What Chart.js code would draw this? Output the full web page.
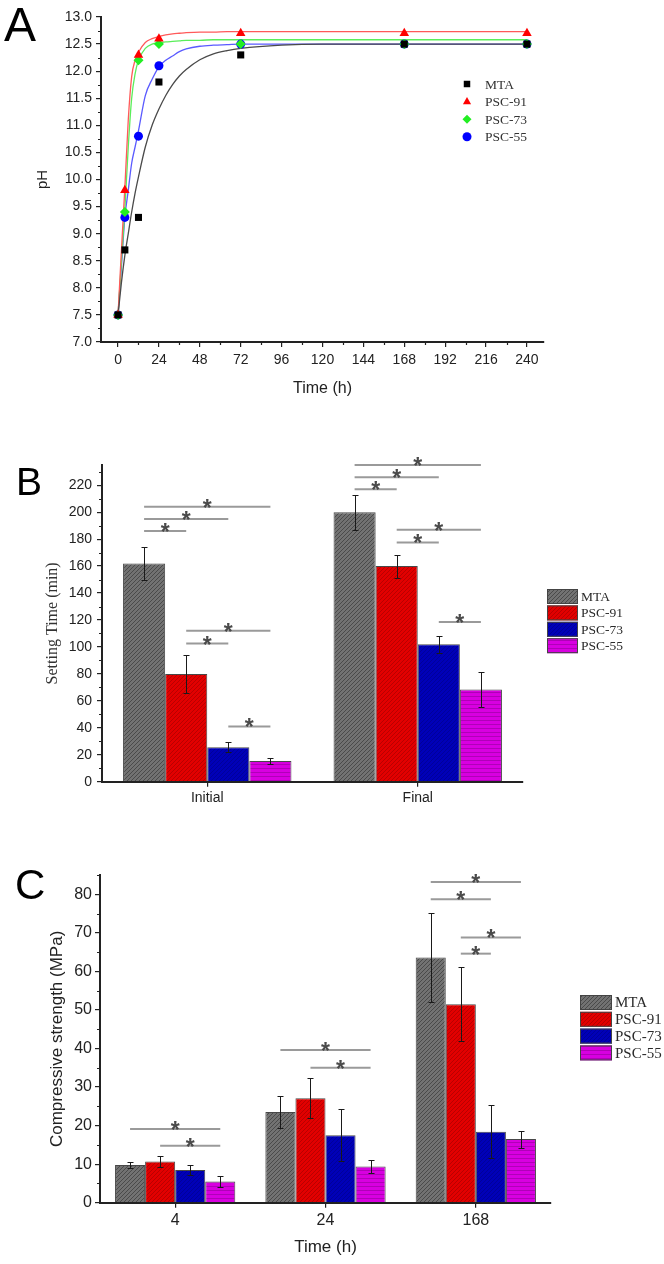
<!DOCTYPE html>
<html>
<head>
<meta charset="utf-8">
<script src="https://cdn.jsdelivr.net/npm/chart.js@4.4.1/dist/chart.umd.min.js"></script>
<style>
html, body { margin: 0; padding: 0; background: #fff; }
#wrap { position: relative; width: 664px; height: 1264px; overflow: hidden; background: #fff; }
#wrap canvas { position: absolute; left: 0; }
.panel { position: absolute; font-family: "Liberation Sans", Arial, sans-serif; color: #000; line-height: 1; }
</style>
</head>
<body>
<div id="wrap">
  <canvas id="chartA" width="664" height="420" style="top:0px"></canvas>
  <canvas id="chartB" width="664" height="400" style="top:440px"></canvas>
  <canvas id="chartC" width="664" height="414" style="top:850px"></canvas>
  <div class="panel" style="left:4px;top:1px;font-size:48px">A</div>
  <div class="panel" style="left:16px;top:462px;font-size:39px">B</div>
  <div class="panel" style="left:15px;top:864px;font-size:42px">C</div>
</div>
<script>
// ---- Panel A: pH over time ----
const phTimes = [0, 4, 12, 24, 72, 168, 240];
const phMTA = [7.5, 8.7, 9.3, 11.8, 12.3, 12.5, 12.5];
const ph91  = [7.5, 9.8, 12.3, 12.6, 12.7, 12.7, 12.7];
const ph73  = [7.5, 9.4, 12.2, 12.5, 12.5, 12.5, 12.5];
const ph55  = [7.5, 9.3, 10.8, 12.1, 12.5, 12.5, 12.5];
// fitted curves
const fitTimes = [0, 2, 4, 6, 8, 10, 12, 16, 20, 24, 28, 32, 36, 40, 48, 56, 64, 72, 96, 120, 168, 240];
const fitMTA = [7.5, 8.1, 8.6, 9.0, 9.4, 9.75, 10.05, 10.6, 11.0, 11.3, 11.55, 11.75, 11.91, 12.03, 12.21, 12.32, 12.38, 12.42, 12.48, 12.5, 12.5, 12.5];
const fit91  = [7.5, 8.7, 9.85, 11.1, 11.9, 12.2, 12.35, 12.53, 12.6, 12.64, 12.67, 12.69, 12.7, 12.71, 12.72, 12.72, 12.73, 12.73, 12.73, 12.73, 12.73, 12.73];
const fit73  = [7.5, 8.5, 9.45, 10.6, 11.5, 11.95, 12.2, 12.42, 12.5, 12.52, 12.54, 12.55, 12.56, 12.57, 12.57, 12.58, 12.58, 12.58, 12.58, 12.58, 12.58, 12.58];
const fit55  = [7.5, 8.4, 9.3, 9.8, 10.3, 10.6, 10.9, 11.55, 11.85, 12.08, 12.2, 12.28, 12.36, 12.41, 12.46, 12.48, 12.49, 12.5, 12.5, 12.5, 12.5, 12.5];

// ---- Panel B: setting time ----
const setCats = ["Initial", "Final"];
const setMTA = [162, 200],  setMTAErr = [12, 13];
const set91  = [80, 160],   set91Err  = [14, 8.5];
const set73  = [25.5, 102], set73Err  = [3.8, 6.3];
const set55  = [15.3, 68.5], set55Err = [2.5, 13.2];
// [category, from series, to series, height]
const setSig = [[0, 0, 1, 186], [0, 0, 2, 195], [0, 0, 3, 204], [0, 1, 2, 102.5], [0, 1, 3, 112], [0, 2, 3, 41],
                [1, 0, 1, 217], [1, 0, 2, 226], [1, 0, 3, 235], [1, 1, 2, 177.5], [1, 1, 3, 187], [1, 2, 3, 118.5]];

// ---- Panel C: compressive strength ----
const csCats = ["4", "24", "168"];
const csMTA = [9.8, 23.5, 63.6],  csMTAErr = [0.8, 4.1, 11.6];
const cs91  = [10.7, 27.1, 51.5], cs91Err  = [1.5, 5.2, 9.6];
const cs73  = [8.5, 17.5, 18.4],  cs73Err  = [1.3, 6.7, 6.9];
const cs55  = [5.5, 9.4, 16.5],   cs55Err  = [1.4, 1.6, 2.2];
const csSig = [[0, 0, 3, 19.1], [0, 1, 3, 14.8], [1, 0, 3, 39.6], [1, 1, 3, 35],
               [2, 0, 3, 83.2], [2, 0, 2, 78.7], [2, 1, 3, 68.8], [2, 1, 2, 64.6]];

const seriesNames = ["MTA", "PSC-91", "PSC-73", "PSC-55"];
const SANS = '"Liberation Sans", Arial, sans-serif';
const SERIF = '"Liberation Serif", "Times New Roman", serif';

function xy(xs, ys) { return xs.map((x, i) => ({ x: x, y: ys[i] })); }

// hatched fills like the Origin patterns
function hatch(base, line, kind) {
  const c = document.createElement("canvas");
  c.width = 4; c.height = 4;
  const g = c.getContext("2d");
  g.fillStyle = base; g.fillRect(0, 0, 4, 4);
  g.strokeStyle = line; g.lineWidth = 1;
  g.beginPath();
  if (kind === "h") {
    g.moveTo(0, 0.5); g.lineTo(4, 0.5);
  } else {
    g.moveTo(0, 4); g.lineTo(4, 0);
    g.moveTo(-1, 1); g.lineTo(1, -1);
    g.moveTo(3, 5); g.lineTo(5, 3);
  }
  g.stroke();
  return g.createPattern(c, "repeat");
}
const fills = [
  hatch("#727272", "#4a4a4a", "d"),
  hatch("#e20000", "#b80000", "d"),
  hatch("#0000b8", "#00009a", "d"),
  hatch("#d800e0", "#b000b8", "h")
];

// short in-between ticks on the axes
const minorTicks = {
  id: "minorTicks",
  afterDraw(chart, args, opts) {
    const ctx = chart.ctx;
    const { x, y } = chart.scales;
    ctx.save();
    ctx.strokeStyle = "#222";
    ctx.lineWidth = 1.2;
    ctx.beginPath();
    (opts.x || []).forEach(v => {
      const px = Math.round(x.getPixelForValue(v)) + 0.5;
      ctx.moveTo(px, y.bottom); ctx.lineTo(px, y.bottom + 3);
    });
    (opts.y || []).forEach(v => {
      const py = Math.round(y.getPixelForValue(v)) + 0.5;
      ctx.moveTo(x.left, py); ctx.lineTo(x.left - 3, py);
    });
    ctx.stroke();
    ctx.restore();
  }
};

function drawMarker(ctx, style, x, y, r, color) {
  ctx.fillStyle = color;
  ctx.beginPath();
  if (style === "rect") {
    ctx.rect(x - r * 0.72, y - r * 0.72, r * 1.44, r * 1.44);
  } else if (style === "triangle") {
    ctx.moveTo(x, y - r); ctx.lineTo(x + r * 0.9, y + r * 0.6); ctx.lineTo(x - r * 0.9, y + r * 0.6); ctx.closePath();
  } else if (style === "rectRot") {
    ctx.moveTo(x, y - r); ctx.lineTo(x + r, y); ctx.lineTo(x, y + r); ctx.lineTo(x - r, y); ctx.closePath();
  } else {
    ctx.arc(x, y, r, 0, Math.PI * 2);
  }
  ctx.fill();
}

const legendA = {
  id: "legendA",
  afterDraw(chart) {
    const ctx = chart.ctx;
    ctx.save();
    ctx.font = "13.5px " + SERIF;
    ctx.textBaseline = "middle";
    const rows = chart.data.datasets.filter(d => d.legend);
    rows.forEach((d, i) => {
      const y = 84 + i * 17.6;
      drawMarker(ctx, d.pointStyle, 467, y, 4.5, d.backgroundColor);
      ctx.fillStyle = "#333";
      ctx.fillText(d.label, 485, y + 1);
    });
    ctx.restore();
  }
};

// error bars, significance brackets and the boxed legend of the bar panels
const barExtras = {
  id: "barExtras",
  afterDraw(chart, args, opts) {
    const ctx = chart.ctx;
    const ys = chart.scales.y;
    ctx.save();
    ctx.strokeStyle = "#1a1a1a";
    ctx.lineWidth = 1;
    chart.data.datasets.forEach((ds, di) => {
      chart.getDatasetMeta(di).data.forEach((bar, i) => {
        const hi = Math.round(ys.getPixelForValue(ds.data[i] + ds.errors[i])) + 0.5;
        const lo = Math.round(ys.getPixelForValue(ds.data[i] - ds.errors[i])) + 0.5;
        const bx = Math.round(bar.x) + 0.5;
        ctx.beginPath();
        ctx.moveTo(bx, hi); ctx.lineTo(bx, lo);
        ctx.moveTo(bx - 3, hi); ctx.lineTo(bx + 3, hi);
        ctx.moveTo(bx - 3, lo); ctx.lineTo(bx + 3, lo);
        ctx.stroke();
      });
    });

    opts.sig.forEach(s => {
      const xa = chart.getDatasetMeta(s[1]).data[s[0]].x;
      const xb = chart.getDatasetMeta(s[2]).data[s[0]].x;
      const py = ys.getPixelForValue(s[3]);
      ctx.strokeStyle = "#9a9a9a";
      ctx.lineWidth = 2;
      ctx.beginPath();
      ctx.moveTo(xa, py); ctx.lineTo(xb, py);
      ctx.stroke();
      ctx.fillStyle = "#4a4a4a";
      ctx.font = "bold 23px " + SANS;
      ctx.textAlign = "center";
      ctx.textBaseline = "alphabetic";
      ctx.fillText("*", (xa + xb) / 2, py + 9);
    });

    const lg = opts.legend;
    ctx.font = lg.font;
    ctx.textAlign = "left";
    ctx.textBaseline = "middle";
    chart.data.datasets.forEach((ds, i) => {
      const top = lg.top + i * lg.step;
      ctx.fillStyle = ds.backgroundColor;
      ctx.fillRect(lg.x, top, lg.w, lg.h);
      ctx.strokeStyle = "#444";
      ctx.lineWidth = 1;
      ctx.strokeRect(lg.x + 0.5, top + 0.5, lg.w - 1, lg.h - 1);
      ctx.fillStyle = "#2a2a2a";
      ctx.fillText(ds.label, lg.x + lg.w + 3, top + lg.h / 2 + 1);
    });
    ctx.restore();
  }
};

function curveSet(label, ys, color) {
  return {
    label: label, data: xy(fitTimes, ys), showLine: true, pointRadius: 0,
    borderColor: color, borderWidth: 1.3, cubicInterpolationMode: "monotone", order: 2
  };
}
function pointSet(label, ys, color, style, r) {
  return {
    label: label, data: xy(phTimes, ys), pointStyle: style, pointRadius: r,
    backgroundColor: color, borderColor: color, borderWidth: 0, order: 1, legend: true
  };
}

new Chart(document.getElementById("chartA"), {
  type: "scatter",
  data: {
    datasets: [
      curveSet("MTA fit", fitMTA, "#4a4a4a"),
      curveSet("PSC-91 fit", fit91, "#ff5a5a"),
      curveSet("PSC-73 fit", fit73, "#5aee5a"),
      curveSet("PSC-55 fit", fit55, "#5a5aff"),
      pointSet("MTA", phMTA, "#000000", "rect", 5),
      pointSet("PSC-91", ph91, "#ff0000", "triangle", 5.5),
      pointSet("PSC-73", ph73, "#22ee22", "rectRot", 5),
      pointSet("PSC-55", ph55, "#0000ff", "circle", 4.5)
    ]
  },
  options: {
    responsive: false, animation: false, devicePixelRatio: 1,
    layout: { padding: { left: 0, top: 17, right: 120, bottom: 0 } },
    plugins: {
      legend: { display: false }, tooltip: { enabled: false },
      minorTicks: { x: [12, 36, 60, 84, 108, 132, 156, 180, 204, 228],
                    y: [7.25, 7.75, 8.25, 8.75, 9.25, 9.75, 10.25, 10.75, 11.25, 11.75, 12.25, 12.75] }
    },
    scales: {
      x: {
        type: "linear", min: -10, max: 250,
        afterFit: s => { s.height = 78; },
        ticks: { stepSize: 24, includeBounds: false, padding: 5, color: "#222", font: { family: SANS, size: 14 } },
        grid: { drawOnChartArea: false, tickLength: 5, color: "#222", lineWidth: 1.2 },
        border: { width: 2, color: "#222" },
        title: { display: true, text: "Time (h)", color: "#222", font: { family: SANS, size: 16 }, padding: { top: 0, bottom: 22 } }
      },
      y: {
        min: 7, max: 13,
        afterFit: s => { s.width = 101; },
        ticks: { stepSize: 0.5, padding: 4, color: "#222", font: { family: SANS, size: 14 }, callback: v => v.toFixed(1) },
        grid: { drawOnChartArea: false, tickLength: 5, color: "#222", lineWidth: 1.2 },
        border: { width: 2, color: "#222" },
        title: { display: true, text: "pH", color: "#222", font: { family: SANS, size: 15 }, padding: { top: 34, bottom: 0 } }
      }
    }
  },
  plugins: [minorTicks, legendA]
});

function barSets(vals, errs) {
  return vals.map((v, i) => ({
    label: seriesNames[i], data: v, errors: errs[i],
    backgroundColor: fills[i], borderColor: "rgba(40,40,40,0.85)", borderWidth: 1,
    categoryPercentage: 0.8, barPercentage: 1.0
  }));
}

new Chart(document.getElementById("chartB"), {
  type: "bar",
  data: {
    labels: setCats,
    datasets: barSets([setMTA, set91, set73, set55], [setMTAErr, set91Err, set73Err, set55Err])
  },
  options: {
    responsive: false, animation: false, devicePixelRatio: 1,
    layout: { padding: { left: 0, top: 25, right: 141, bottom: 0 } },
    plugins: {
      legend: { display: false }, tooltip: { enabled: false },
      minorTicks: { y: [10, 30, 50, 70, 90, 110, 130, 150, 170, 190, 210, 230] },
      barExtras: { sig: setSig, legend: { x: 547, top: 149, step: 16.4, w: 31, h: 15, font: "13.5px " + SERIF } }
    },
    scales: {
      x: {
        afterFit: s => { s.height = 58.3; },
        ticks: { padding: 3, color: "#222", font: { family: SANS, size: 14 } },
        grid: { offset: false, drawOnChartArea: false, tickLength: 5, color: "#222", lineWidth: 1.2 },
        border: { width: 2, color: "#222" }
      },
      y: {
        min: 0, max: 235,
        afterFit: s => { s.width = 102; },
        ticks: { stepSize: 20, includeBounds: false, padding: 5, color: "#222", font: { family: SANS, size: 14 } },
        grid: { drawOnChartArea: false, tickLength: 5, color: "#222", lineWidth: 1.2 },
        border: { width: 2, color: "#222" },
        title: { display: true, text: "Setting Time (min)", color: "#333", font: { family: SERIF, size: 16 }, padding: { top: 43, bottom: 0 } }
      }
    }
  },
  plugins: [minorTicks, barExtras]
});

new Chart(document.getElementById("chartC"), {
  type: "bar",
  data: {
    labels: csCats,
    datasets: barSets([csMTA, cs91, cs73, cs55], [csMTAErr, cs91Err, cs73Err, cs55Err])
  },
  options: {
    responsive: false, animation: false, devicePixelRatio: 1,
    layout: { padding: { left: 0, top: 25, right: 113, bottom: 0 } },
    plugins: {
      legend: { display: false }, tooltip: { enabled: false },
      minorTicks: { y: [5, 15, 25, 35, 45, 55, 65, 75, 85] },
      barExtras: { sig: csSig, legend: { x: 580, top: 145, step: 16.8, w: 32, h: 15, font: "15px " + SERIF } }
    },
    scales: {
      x: {
        afterFit: s => { s.height = 61.3; },
        ticks: { padding: 3, color: "#222", font: { family: SANS, size: 16 } },
        grid: { offset: false, drawOnChartArea: false, tickLength: 5, color: "#222", lineWidth: 1.2 },
        border: { width: 2, color: "#222" },
        title: { display: true, text: "Time (h)", color: "#222", font: { family: SANS, size: 17 }, padding: { top: 0, bottom: 6 } }
      },
      y: {
        min: 0, max: 85,
        afterFit: s => { s.width = 100; },
        ticks: { stepSize: 10, includeBounds: false, padding: 3, color: "#222", font: { family: SANS, size: 16 } },
        grid: { drawOnChartArea: false, tickLength: 5, color: "#222", lineWidth: 1.2 },
        border: { width: 2, color: "#222" },
        title: { display: true, text: "Compressive strength (MPa)", color: "#222", font: { family: SANS, size: 17 }, padding: { top: 47, bottom: 0 } }
      }
    }
  },
  plugins: [minorTicks, barExtras]
});
</script>
</body>
</html>
